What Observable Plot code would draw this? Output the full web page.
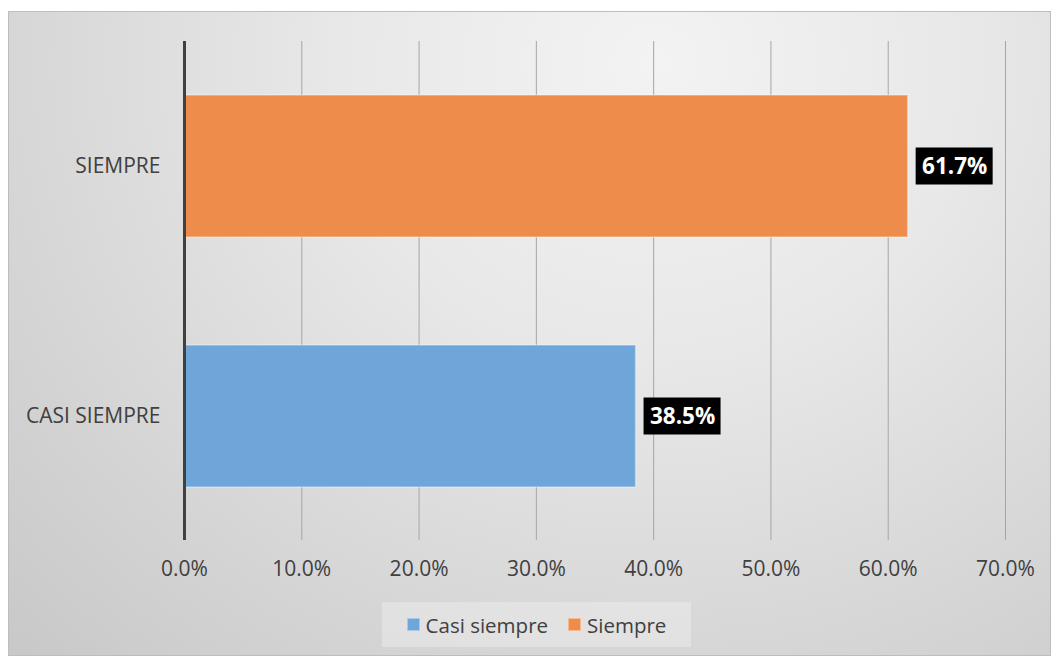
<!DOCTYPE html>
<html>
<head>
<meta charset="utf-8">
<script src="https://cdn.jsdelivr.net/npm/d3@7"></script>
<script src="https://cdn.jsdelivr.net/npm/@observablehq/plot@0.6"></script>
<style>
  html, body { margin: 0; padding: 0; background: #fff; }
  #frame {
    position: absolute; left: 8px; top: 11px; width: 1041px; height: 643px;
    border: 1px solid #bdbdbd;
    background: radial-gradient(ellipse farthest-corner at 62% 8%, #f3f3f3 0%, #e8e8e8 35%, #d4d4d4 75%, #c8c8c8 100%);
  }
  #chart { position: absolute; left: 0; top: 0; }
  #legend {
    position: absolute; left: 382px; top: 602px; width: 309px; height: 45px;
    background: rgba(240,240,240,0.45);
    font-family: "Open Sans", sans-serif; font-size: 20.5px; color: #404040;
    display: flex; align-items: center; justify-content: center; gap: 20px;
  }
  .item { display: flex; align-items: center; gap: 6px; }
  .sw { width: 13px; height: 13px; display: inline-block; box-shadow: inset 0 0 0 1px rgba(255,255,255,0.4); }
</style>
</head>
<body>
<div id="frame"></div>
<div id="chart"></div>
<div id="legend"></div>
<script>
const categories = ["SIEMPRE", "CASI SIEMPRE"];
const seriesNames = ["Siempre", "Casi siempre"];
const values = [0.617, 0.385];
const colors = ["#ED8C4B", "#6EA6D9"];
const xTicks = [0, 0.1, 0.2, 0.3, 0.4, 0.5, 0.6, 0.7];
const legendOrder = ["Casi siempre", "Siempre"];

const data = categories.map((c, i) => ({cat: c, series: seriesNames[i], value: values[i], color: colors[i]}));

const font = '"Open Sans", sans-serif';

const labelBoxes = (index, scales, vals, dims, ctx, next) => {
  const g = next(index, scales, vals, dims, ctx);
  const bw = typeof scales.y.bandwidth === "function" ? scales.y.bandwidth() : scales.y.bandwidth;
  const ns = "http://www.w3.org/2000/svg";
  const bg = document.createElementNS(ns, "g");
  for (const i of index) {
    const d = data[i];
    const r = document.createElementNS(ns, "rect");
    r.setAttribute("x", scales.x(d.value) + 8);
    r.setAttribute("y", scales.y(d.cat) + bw / 2 - 18.5);
    r.setAttribute("width", 77);
    r.setAttribute("height", 37);
    r.setAttribute("fill", "#000");
    bg.appendChild(r);
  }
  const wrap = document.createElementNS(ns, "g");
  wrap.appendChild(bg);
  wrap.appendChild(g);
  return wrap;
};

const chart = Plot.plot({
  width: 1054,
  height: 600,
  marginLeft: 184,
  marginRight: 49,
  marginTop: 41,
  marginBottom: 60,
  style: {background: "transparent", fontFamily: font, fontSize: "21px", color: "#404040"},
  x: {domain: [0, 0.7], ticks: xTicks, tickFormat: d3.format(".1%"), tickSize: 0, tickPadding: 21, label: null},
  y: {domain: categories, paddingInner: 0.432, paddingOuter: 0.214, tickSize: 0, tickPadding: 24, label: null},
  marks: [
    Plot.gridX(xTicks.slice(1), {stroke: "#a6a6a6", strokeOpacity: 1, strokeWidth: 1}),
    Plot.barX(data, {x: "value", y: "cat", fill: "color", stroke: "#ffffff", strokeOpacity: 0.35, strokeWidth: 1.5}),
    Plot.ruleX([0], {stroke: "#404040", strokeWidth: 3}),
    Plot.text(data, {x: "value", y: "cat", text: d => d3.format(".1%")(d.value), dx: 46.5, textAnchor: "middle", fill: "#fff", fontWeight: "bold", fontSize: 22.5, fontFamily: font, render: labelBoxes})
  ]
});
document.getElementById("chart").appendChild(chart);

const legend = document.getElementById("legend");
legendOrder.forEach(name => {
  const i = seriesNames.indexOf(name);
  const item = document.createElement("div");
  item.className = "item";
  const sw = document.createElement("span");
  sw.className = "sw";
  sw.style.background = colors[i];
  const t = document.createElement("span");
  t.textContent = name;
  item.appendChild(sw);
  item.appendChild(t);
  legend.appendChild(item);
});
</script>
</body>
</html>
